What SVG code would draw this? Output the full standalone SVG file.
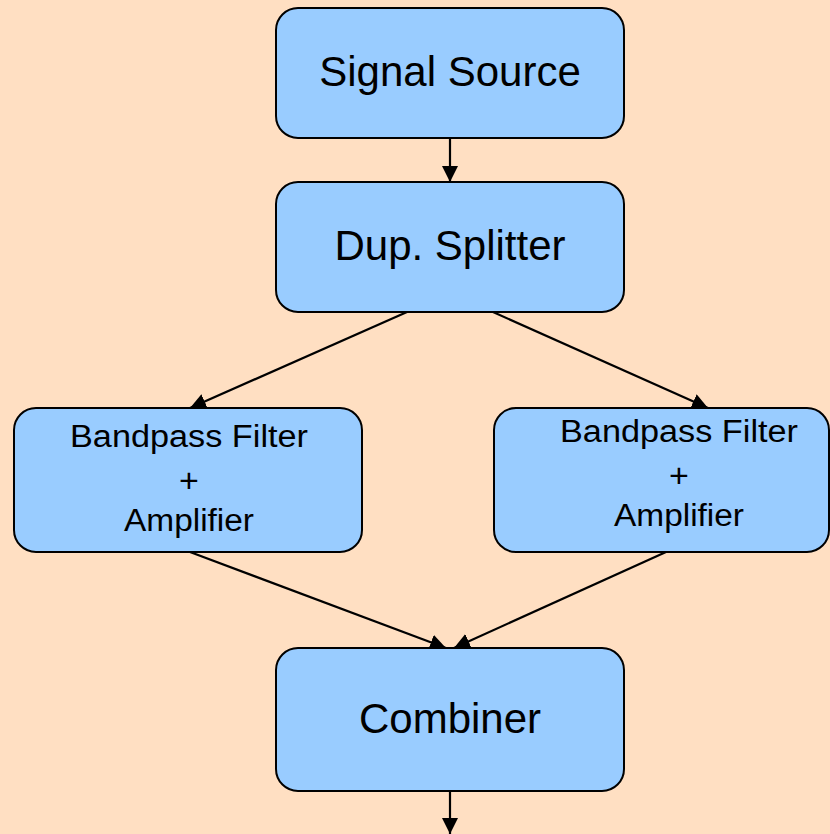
<svg xmlns="http://www.w3.org/2000/svg" width="830" height="834" viewBox="0 0 830 834">
  <style>
    .box { fill: #99CCFF; stroke: #000000; stroke-width: 2; }
    .big { font-family: "Liberation Sans", Arial, sans-serif; font-size: 42px; fill: #000000; text-anchor: middle; }
    .small { font-family: "Liberation Sans", Arial, sans-serif; font-size: 31px; fill: #000000; text-anchor: middle; }
    .plus { font-family: "Liberation Sans", Arial, sans-serif; font-size: 34px; fill: #000000; text-anchor: middle; }
    .edge { stroke: #000000; stroke-width: 2.2; fill: none; marker-end: url(#arrow); }
  </style>
  <defs>
    <marker id="arrow" markerUnits="userSpaceOnUse" markerWidth="17" markerHeight="17" refX="16" refY="8" orient="auto">
      <path d="M0,0 L16,8 L0,16 Z" fill="#000000"/>
    </marker>
  </defs>

  <rect width="830" height="834" fill="#FFDFC2"/>

  <g id="connectors">
    <line class="edge" x1="450" y1="138" x2="450" y2="182"/>
    <line class="edge" x1="407" y1="312" x2="190" y2="408"/>
    <line class="edge" x1="493" y1="312" x2="708" y2="408"/>
    <line class="edge" x1="190" y1="552" x2="446" y2="648"/>
    <line class="edge" x1="666" y1="552" x2="454" y2="648"/>
    <line class="edge" x1="450" y1="791" x2="450" y2="834"/>
  </g>

  <g id="signal-source">
    <rect class="box" x="276" y="8" width="348" height="130" rx="22" ry="22"/>
    <text class="big" x="450" y="86">Signal Source</text>
  </g>

  <g id="dup-splitter">
    <rect class="box" x="276" y="182" width="348" height="130" rx="22" ry="22"/>
    <text class="big" x="450" y="260">Dup. Splitter</text>
  </g>

  <g id="bandpass-left">
    <rect class="box" x="14" y="408" width="348" height="144" rx="22" ry="22"/>
    <text class="small" x="189" y="447" textLength="238" lengthAdjust="spacingAndGlyphs">Bandpass Filter</text>
    <text class="plus" x="189" y="492">+</text>
    <text class="small" x="189" y="531" textLength="130" lengthAdjust="spacingAndGlyphs">Amplifier</text>
  </g>

  <g id="bandpass-right">
    <rect class="box" x="494" y="408" width="335" height="144" rx="22" ry="22"/>
    <text class="small" x="679" y="442" textLength="238" lengthAdjust="spacingAndGlyphs">Bandpass Filter</text>
    <text class="plus" x="679" y="487">+</text>
    <text class="small" x="679" y="526" textLength="130" lengthAdjust="spacingAndGlyphs">Amplifier</text>
  </g>

  <g id="combiner">
    <rect class="box" x="276" y="648" width="348" height="143" rx="22" ry="22"/>
    <text class="big" x="450" y="733">Combiner</text>
  </g>
</svg>
